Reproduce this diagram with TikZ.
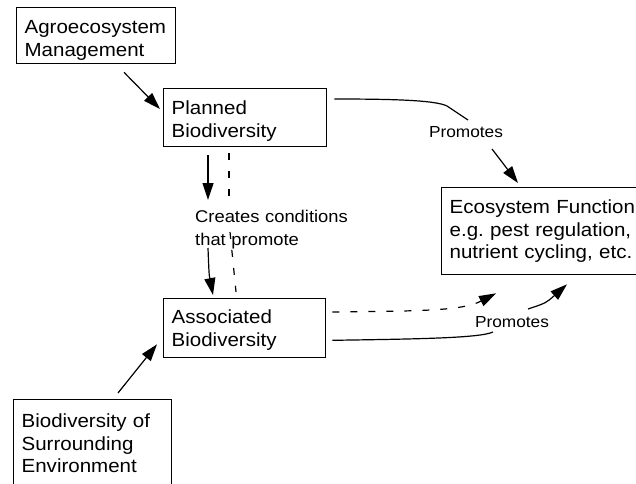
\documentclass[tikz,border=0pt]{standalone}
\usepackage{fontspec}
\setmainfont[FakeStretch=1.08]{Liberation Sans}
\usetikzlibrary{arrows.meta}
\frenchspacing

\tikzset{
  flow/.style={
    box/.style={draw, line width=1.3pt, anchor=north west, align=left,
        inner xsep=8pt, inner ysep=0pt, text height=26pt,
        font=\fontsize{19}{22.5}\selectfont},
    lbl/.style={inner sep=0pt, align=left, font=\fontsize{17}{23}\selectfont},
    arr/.style={line width=1.2pt, -{Triangle[length=17pt,width=11pt]}},
    dash line/.style={line width=1.2pt, dash pattern=on 7pt off 11pt},
  }
}

\begin{document}
\begin{tikzpicture}[x=1pt, y=-1pt, flow]
        \useasboundingbox (0,0) rectangle (636,483);
        \fill[white] (0,0) rectangle (636,483);
        \clip (0,0) rectangle (636,483);

        \node[box, text width=143pt, text depth=30pt] (agro) at (16,7) {Agroecosystem\\Management};
        \node[box, text width=147pt, text depth=32pt] (planned) at (163,88) {Planned\\Biodiversity};
        \node[box, text width=146pt, text height=25pt, text depth=34pt] (assoc) at (163,298) {Associated\\Biodiversity};
        \node[box, text width=200pt, text depth=61pt] (eco) at (441,187) {Ecosystem Function\\e.g. pest regulation,\\nutrient cycling, etc.};
        \node[box, text width=142pt, text height=28pt, text depth=80pt] (surr) at (13,399) {Biodiversity of\\Surrounding\\Environment};

        \node[lbl, text width=170pt, anchor=base west] (cond) at (195,222) {Creates conditions\\that promote};
        \node[lbl, font=\fontsize{16}{20}\selectfont, anchor=base] (prom1) at (466,137) {Promotes};
        \node[lbl, font=\fontsize{16}{20}\selectfont, anchor=base] (prom2) at (512,327) {Promotes};

        \coordinate (c1) at (208,200);
        \coordinate (c2) at (208,248);
        \coordinate (d1) at (229,198);
        \coordinate (d2) at (230,232);
        \coordinate (p1) at (468,120);
        \coordinate (p2) at (492,149);
        \coordinate (q1) at (493,332);
        \coordinate (q2) at (528,309);

        \draw[arr] ([xshift=108pt,yshift=-8pt]agro.south west) -- ([xshift=-3pt,yshift=-21pt]planned.north west);
        \draw[arr] ([xshift=105pt,yshift=6pt]surr.north west) -- ([xshift=-6pt,yshift=14pt]assoc.south west);

        \draw[arr] ([xshift=45pt,yshift=-8pt]planned.south west) -- (c1);
        \draw[arr] (c2) .. controls (209,274) .. ([xshift=50pt,yshift=3pt]assoc.north west);
        \draw[dash line] ([xshift=66pt,yshift=-6pt]planned.south west) -- (d1);
        \draw[dash line] (d2) -- ([xshift=73pt,yshift=6pt]assoc.north west);

        \draw[line width=1.2pt] ([xshift=7pt,yshift=-11pt]planned.north east) .. controls (390,99) and (435,100) .. (447,106) -- (p1);
        \draw[arr] (p2) -- ([xshift=77pt,yshift=4pt]eco.north west);

        \draw[dash line, -{Triangle[length=17pt,width=11pt]}] ([xshift=6pt,yshift=-14pt]assoc.north east) .. controls (420,311) and (462,311) .. ([xshift=55pt,yshift=-18pt]eco.south west);
        \draw[line width=1.2pt] ([xshift=6pt,yshift=18pt]assoc.south east) .. controls (420,339) and (480,338) .. (q1);
        \draw[arr] (q2) .. controls (546,303) .. ([xshift=126pt,yshift=-9pt]eco.south west);
\end{tikzpicture}
\end{document}
